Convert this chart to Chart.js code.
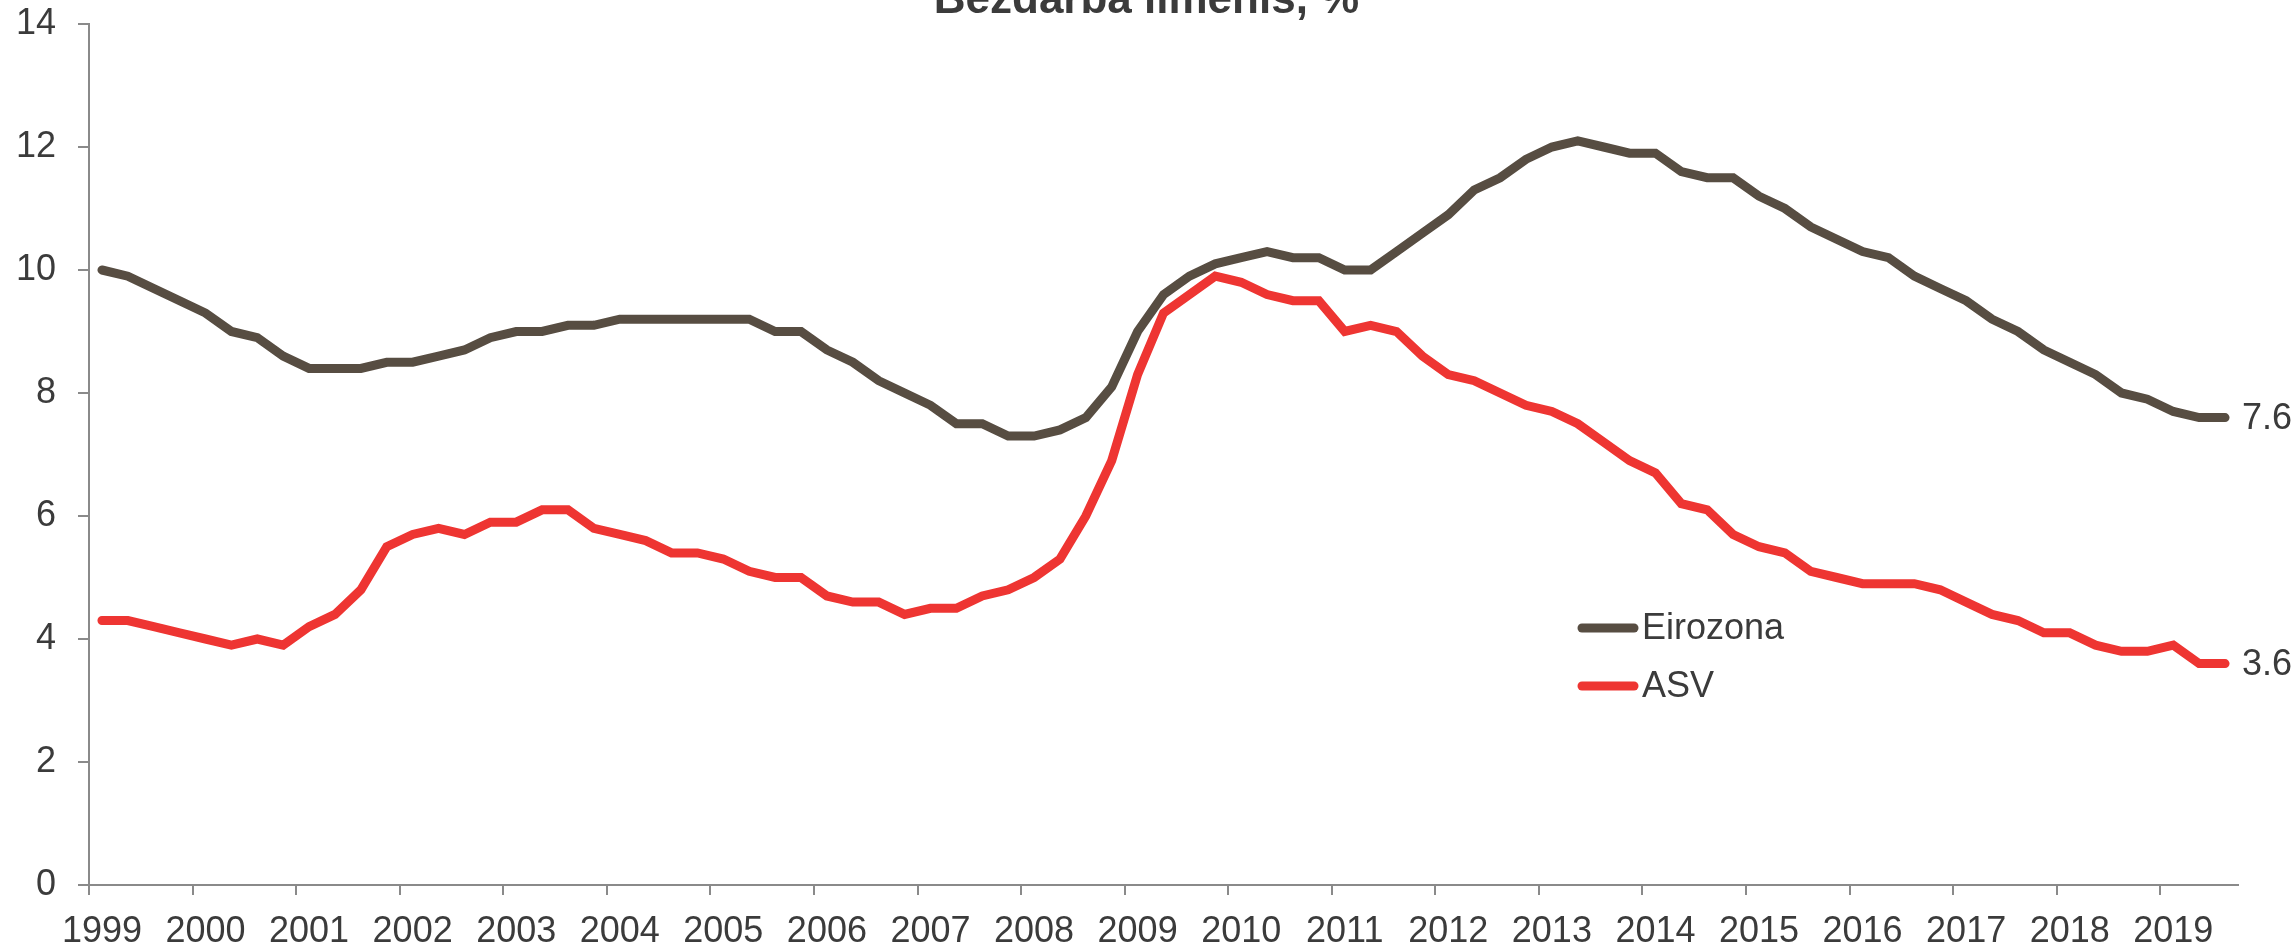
<!DOCTYPE html>
<html>
<head>
<meta charset="utf-8">
<title>Bezdarba līmenis</title>
<script src="https://cdn.jsdelivr.net/npm/chart.js"></script>
<style>
    html, body { margin: 0; padding: 0; background: #fff; overflow: hidden; }
    #wrap { position: relative; width: 2293px; height: 945px; }
</style>
</head>
<body>
<div id="wrap"><canvas id="unempChart"></canvas></div>
<script>
// --- DATA (quarterly, 1999 Q1 .. 2019 Q3) ---
const chartTitle = 'Bezdarba līmenis, %';
const years = ['1999', '2000', '2001', '2002', '2003', '2004', '2005', '2006', '2007', '2008',
    '2009', '2010', '2011', '2012', '2013', '2014', '2015', '2016', '2017', '2018', '2019'];
const quarters = ['Q1', 'Q2', 'Q3', 'Q4'];

const eurozone = [
    10.0, 9.9, 9.7, 9.5,   9.3, 9.0, 8.9, 8.6,   8.4, 8.4, 8.4, 8.5,   8.5, 8.6, 8.7, 8.9,
    9.0, 9.0, 9.1, 9.1,    9.2, 9.2, 9.2, 9.2,   9.2, 9.2, 9.0, 9.0,   8.7, 8.5, 8.2, 8.0,
    7.8, 7.5, 7.5, 7.3,    7.3, 7.4, 7.6, 8.1,   9.0, 9.6, 9.9, 10.1,  10.2, 10.3, 10.2, 10.2,
    10.0, 10.0, 10.3, 10.6, 10.9, 11.3, 11.5, 11.8, 12.0, 12.1, 12.0, 11.9, 11.9, 11.6, 11.5, 11.5,
    11.2, 11.0, 10.7, 10.5, 10.3, 10.2, 9.9, 9.7, 9.5, 9.2, 9.0, 8.7,   8.5, 8.3, 8.0, 7.9,
    7.7, 7.6, 7.6
];
const usa = [
    4.3, 4.3, 4.2, 4.1,   4.0, 3.9, 4.0, 3.9,   4.2, 4.4, 4.8, 5.5,   5.7, 5.8, 5.7, 5.9,
    5.9, 6.1, 6.1, 5.8,   5.7, 5.6, 5.4, 5.4,   5.3, 5.1, 5.0, 5.0,   4.7, 4.6, 4.6, 4.4,
    4.5, 4.5, 4.7, 4.8,   5.0, 5.3, 6.0, 6.9,   8.3, 9.3, 9.6, 9.9,   9.8, 9.6, 9.5, 9.5,
    9.0, 9.1, 9.0, 8.6,   8.3, 8.2, 8.0, 7.8,   7.7, 7.5, 7.2, 6.9,   6.7, 6.2, 6.1, 5.7,
    5.5, 5.4, 5.1, 5.0,   4.9, 4.9, 4.9, 4.8,   4.6, 4.4, 4.3, 4.1,   4.1, 3.9, 3.8, 3.8,
    3.9, 3.6, 3.6
];
const seriesNames = ['Eirozona', 'ASV'];
const yTicks = { min: 0, max: 14, step: 2 };

// category labels built from years x quarters
const categories = [];
years.forEach(y => quarters.forEach(q => categories.push(y + ' ' + q)));
categories.length = eurozone.length;

// --- STYLE ---
const FONT = '"Liberation Sans", Arial, sans-serif';
const textColor = '#3b3b3b';
const axisGray = '#8a8a8a';
const euroColor = '#574d42';
const usaColor = '#ee3532';
const LINE_W = 9;

// title, in-plot legend and end-of-line values
const overlayPlugin = {
    id: 'overlay',
    afterDraw(chart) {
        const ctx = chart.ctx;
        ctx.save();

        // title (top of it runs off the page, as in the original)
        ctx.fillStyle = textColor;
        ctx.font = 'bold 44px ' + FONT;
        ctx.textAlign = 'center';
        ctx.textBaseline = 'alphabetic';
        ctx.fillText(chartTitle, chart.width / 2, 13);

        // legend
        ctx.font = '36px ' + FONT;
        ctx.textAlign = 'left';
        ctx.textBaseline = 'middle';
        chart.data.datasets.forEach((ds, i) => {
            const y = 628 + i * 58;
            ctx.strokeStyle = ds.borderColor;
            ctx.lineWidth = LINE_W;
            ctx.lineCap = 'round';
            ctx.beginPath();
            ctx.moveTo(1582, y);
            ctx.lineTo(1634, y);
            ctx.stroke();
            ctx.fillStyle = textColor;
            ctx.fillText(ds.label, 1642, y + 1);
        });

        // last values
        chart.data.datasets.forEach((ds, i) => {
            const pts = chart.getDatasetMeta(i).data;
            const last = pts[pts.length - 1];
            ctx.fillStyle = textColor;
            ctx.fillText(ds.data[ds.data.length - 1].toFixed(1), last.x + 17, last.y + 1);
        });
        ctx.restore();
    }
};

function initChart() {
    const ctx = document.getElementById('unempChart').getContext('2d');
    new Chart(ctx, {
        type: 'line',
        data: {
            labels: categories,
            datasets: [{
                label: seriesNames[0],
                data: eurozone,
                borderColor: euroColor,
                borderWidth: LINE_W,
                pointRadius: 0,
                borderCapStyle: 'round',
                tension: 0
            }, {
                label: seriesNames[1],
                data: usa,
                borderColor: usaColor,
                borderWidth: LINE_W,
                pointRadius: 0,
                borderCapStyle: 'round',
                tension: 0
            }]
        },
        options: {
            responsive: true,
            maintainAspectRatio: false,
            devicePixelRatio: 1,
            animation: false,
            layout: { padding: { top: 24, right: 55, bottom: 0, left: 0 } },
            plugins: {
                legend: { display: false },
                title: { display: false },
                tooltip: { enabled: false }
            },
            scales: {
                x: {
                    type: 'category',
                    offset: true,
                    afterFit: scale => {
                        scale.height = 60;
                        scale.paddingLeft = 0;
                        scale.paddingRight = 0;
                    },
                    grid: {
                        offset: true,
                        drawOnChartArea: false,
                        tickLength: 10,
                        lineWidth: 2,
                        color: c => (c.index % 4 === 0 ? axisGray : 'rgba(0,0,0,0)')
                    },
                    border: { color: axisGray, width: 2 },
                    ticks: {
                        autoSkip: false,
                        maxRotation: 0,
                        padding: 15,
                        color: textColor,
                        font: { family: FONT, size: 36 },
                        callback: (val, idx) => (idx % 4 === 0 ? years[idx / 4] : '')
                    }
                },
                y: {
                    min: yTicks.min,
                    max: yTicks.max,
                    afterFit: scale => {
                        scale.width = 89;
                        scale.paddingTop = 0;
                        scale.paddingBottom = 0;
                    },
                    grid: {
                        drawOnChartArea: false,
                        tickLength: 11,
                        lineWidth: 2,
                        color: axisGray
                    },
                    border: { color: axisGray, width: 2 },
                    ticks: {
                        stepSize: yTicks.step,
                        padding: 22,
                        color: textColor,
                        font: { family: FONT, size: 36 }
                    }
                }
            }
        },
        plugins: [overlayPlugin]
    });
}

document.addEventListener('DOMContentLoaded', initChart);
</script>
</body>
</html>
